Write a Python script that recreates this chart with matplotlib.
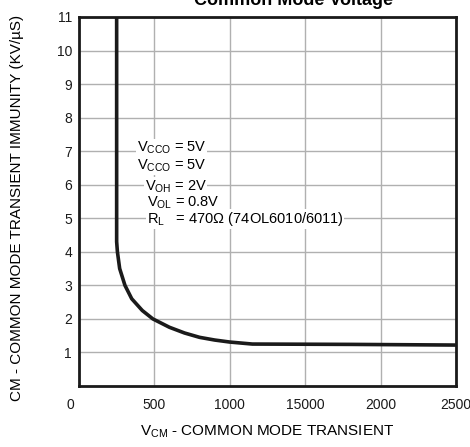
import numpy as np
import matplotlib.pyplot as plt
import matplotlib.transforms as mtransforms

plt.rcParams['font.family'] = ['Liberation Sans', 'DejaVu Sans']
plt.rcParams['mathtext.fontset'] = 'custom'
plt.rcParams['mathtext.rm'] = 'Liberation Sans'
plt.rcParams['mathtext.it'] = 'Liberation Sans'

# curve
vcm = [250, 250, 255, 270, 305, 350, 420, 490, 600, 700, 800, 900, 1000, 1150, 1800, 2500]
cmti = [11, 4.3, 4.0, 3.5, 3.0, 2.6, 2.25, 2.0, 1.75, 1.58, 1.45, 1.37, 1.31, 1.25, 1.24, 1.22]

xticks = [0, 500, 1000, 1500, 2000, 2500]
xlabels = ["0", "500", "1000", "15000", "2000", "2500"]
yticks = list(range(1, 12))

notes = [r"V$_{\mathrm{CCO}}$ = 5V", r"V$_{\mathrm{CCO}}$ = 5V", r"V$_{\mathrm{OH}}$ = 2V",
         r"V$_{\mathrm{OL}}$ = 0.8V", r"R$_{\mathrm{L}}$   = 470Ω (74OL6010/6011)"]

fig = plt.figure(figsize=(4.7, 4.47), dpi=100)
ax = fig.add_axes([0.168, 0.1365, 0.802, 0.8255])

ax.plot(vcm, cmti, color="#1a1a1a", lw=2.6, solid_capstyle="butt", zorder=3)

ax.set_xlim(0, 2500)
ax.set_ylim(0, 11)
ax.set_xticks(xticks)
ax.set_xticklabels(xlabels)
ax.set_yticks(yticks)
ax.grid(True, color="#b0b0b0", lw=1.0)
ax.tick_params(length=0, labelsize=10, colors="#1a1a1a")
ax.tick_params(axis="x", pad=9)
ax.tick_params(axis="y", pad=5)
for s in ax.spines.values():
    s.set_linewidth(2.0)
    s.set_color("#1a1a1a")

# the 0 label sits left of the axis
lab0 = ax.get_xticklabels()[0]
lab0.set_transform(lab0.get_transform() + mtransforms.ScaledTranslation(-0.09, 0, fig.dpi_scale_trans))

# parameter notes
ys = [7.1, 6.55, 5.95, 5.45, 4.98]
xs = [384, 384, 435, 448, 448]
for x, y, t in zip(xs, ys, notes):
    ax.text(x, y, t, fontsize=10.5, va="center", ha="left", zorder=4,
            bbox=dict(facecolor="white", edgecolor="none", pad=0.5))

ax.set_xlabel(r"V$_{\mathrm{CM}}$ - COMMON MODE TRANSIENT", fontsize=11, labelpad=8)
fig.text(0.036, 0.535, "CM - COMMON MODE TRANSIENT IMMUNITY (KV/µS)", rotation=90,
         fontsize=11, ha="center", va="center")
fig.text(0.625, 1 - 5 / 447, "Common Mode Voltage", fontsize=13, fontweight="bold",
         ha="center", va="baseline")

fig.savefig("out.png", dpi=100)
